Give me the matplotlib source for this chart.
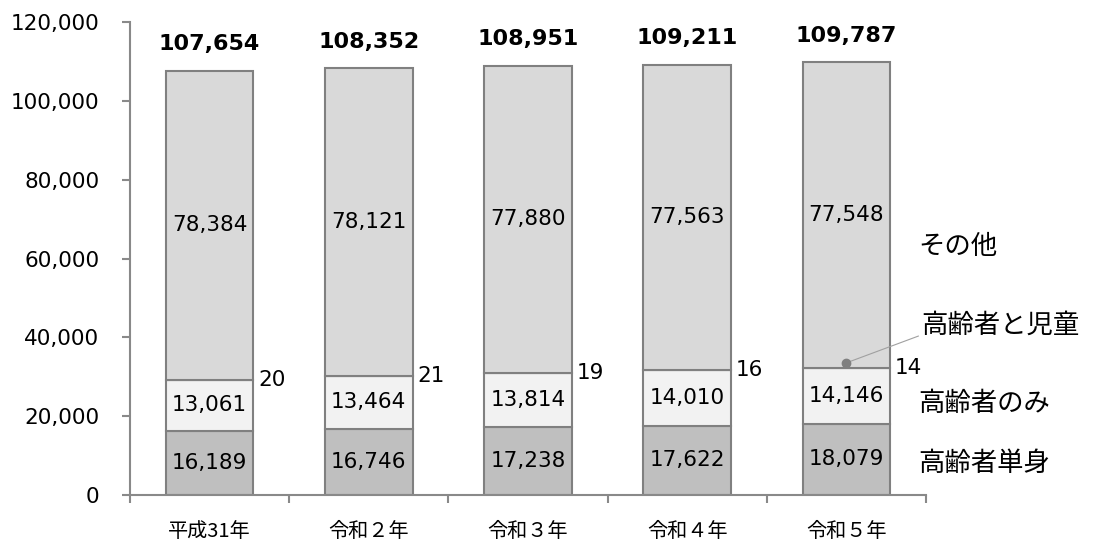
import matplotlib
matplotlib.use("Agg")
import matplotlib.pyplot as plt
import numpy as np

categories = ["平成31年", "令和２年", "令和３年", "令和４年", "令和５年"]
tanshin = [16189, 16746, 17238, 17622, 18079]
nomi = [13061, 13464, 13814, 14010, 14146]
jidou = [20, 21, 19, 16, 14]
sonota = [78384, 78121, 77880, 77563, 77548]
totals = [107654, 108352, 108951, 109211, 109787]
series_names = ["高齢者単身", "高齢者のみ", "高齢者と児童", "その他"]
yticks = [0, 20000, 40000, 60000, 80000, 100000, 120000]

plt.rcParams['font.family'] = ['DejaVu Sans', 'Noto Sans CJK JP']
JP = ['Noto Sans CJK JP', 'DejaVu Sans']

fig = plt.figure(figsize=(10.98, 5.51), dpi=100)
ax = fig.add_axes([0.1184, 0.1016, 0.7250, 0.8584])

x = np.arange(len(categories))
w = 0.55
edge = '#808080'
colors = ['#bfbfbf', '#f2f2f2', '#f2f2f2', '#d9d9d9']
bottom = np.zeros(len(categories))
stacks = [tanshin, nomi, jidou, sonota]
for vals, c in zip(stacks, colors):
    ax.bar(x, vals, w, bottom=bottom, color=c, edgecolor=edge, linewidth=1.5, zorder=2)
    bottom = bottom + np.array(vals)

b0 = np.array(tanshin, dtype=float)
b1 = b0 + np.array(nomi)
b2 = b1 + np.array(jidou)
b3 = b2 + np.array(sonota)
fs = 15.5
for i in range(len(categories)):
    ax.text(x[i], b0[i] / 2, f"{tanshin[i]:,}", ha='center', va='center', fontsize=fs)
    ax.text(x[i], (b0[i] + b1[i]) / 2, f"{nomi[i]:,}", ha='center', va='center', fontsize=fs)
    ax.text(x[i] + w / 2 + 0.03, b2[i], f"{jidou[i]}", ha='left', va='center', fontsize=fs)
    ax.text(x[i], (b2[i] + b3[i]) / 2, f"{sonota[i]:,}", ha='center', va='center', fontsize=fs)
    ax.annotate(f"{totals[i]:,}", (x[i], totals[i]), xytext=(0, 19), textcoords='offset points',
                ha='center', va='center', fontsize=16, fontweight='bold')

# series labels on the right
tx = 4.5 - 0.05
lfs = 19
ax.text(tx, (b2[-1] + b3[-1]) / 2 - 8000, series_names[3], ha='left', va='center', fontsize=lfs,
        family=JP, clip_on=False)
ax.text(tx, (b0[-1] + b1[-1]) / 2 - 2000, series_names[1], ha='left', va='center', fontsize=lfs,
        family=JP, clip_on=False)
ax.text(tx, b0[-1] / 2 - 1000, series_names[0], ha='left', va='center', fontsize=lfs,
        family=JP, clip_on=False)
ax.plot([x[-1]], [b2[-1] + 1300], 'o', color='#808080', markersize=6, zorder=4, clip_on=False)
ax.annotate(series_names[2], xy=(x[-1], b2[-1] + 1300), xytext=(tx + 0.02, 43000),
            ha='left', va='center', fontsize=lfs, family=JP, annotation_clip=False,
            arrowprops=dict(arrowstyle='-', color='#a0a0a0', lw=0.8,
                            shrinkA=0, shrinkB=0, relpos=(0, 0.15)))

ax.set_xlim(-0.5, 4.5)
ax.set_ylim(0, 120000)
ax.set_yticks(yticks)
ax.set_yticklabels([f"{v:,}" for v in yticks], fontsize=15.5)
ax.set_xticks(x)
ax.set_xticklabels(categories, fontsize=14.5, family=JP)
ax.set_xticks(np.arange(-0.5, 5.0, 1.0), minor=True)
ax.tick_params(axis='x', which='major', length=0, pad=19)
ax.tick_params(axis='x', which='minor', length=6, width=1.5, color='#898989', direction='out')
ax.tick_params(axis='y', length=6, width=1.5, color='#898989', pad=16)
for s in ['top', 'right']:
    ax.spines[s].set_visible(False)
for s in ['left', 'bottom']:
    ax.spines[s].set_color('#898989')
    ax.spines[s].set_linewidth(1.5)

fig.savefig("out.png", dpi=100)
